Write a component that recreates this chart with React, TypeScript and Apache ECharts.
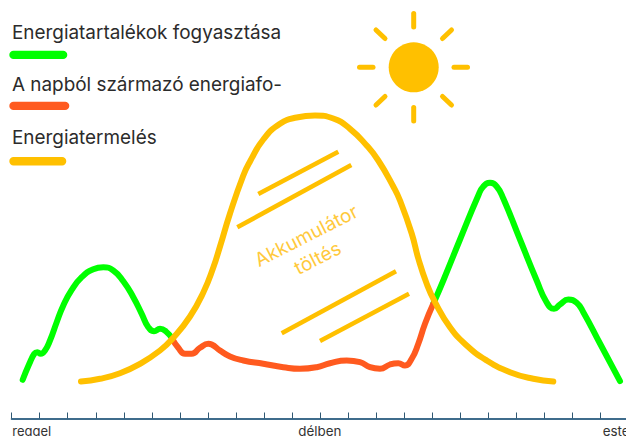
import React, { useEffect, useRef } from "react";
import * as echarts from "echarts";

const GREEN = "#00ff00";
const RED = "#ff5a1f";
const YELLOW = "#ffc000";

const legendNames = ["Energiatartalékok fogyasztása", "A napból származó energiafo-", "Energiatermelés"];
const tickLabels: Record<number, string> = { 0: "reggel", 11: "délben", 21: "este" };
const TICK = 28.02;

const greenMorning = [[11,38.7],[17.6,54.7],[22.6,64.7],[25.6,66.3],[29,64.7],[33.3,68],[38.3,78],[45,96.3],[51.6,113],[60,128.7],[70,141.3],[81.6,149.3],[91.6,151.3],[101.6,148],[111.6,137.3],[121.6,121.3],[130,104.7],[136.6,91.3],[142.3,87.3],[148.3,89.7],[154.3,87],[160.6,79.7]];
const redMidday = [[160.6,79.7],[166.6,70.7],[173.3,64.7],[180,64.7],[188.3,70.7],[196.6,74.7],[200,74],[208.3,68],[218.3,62],[231.6,58],[251.6,54.7],[271.6,51.3],[288.3,49.7],[305,51.3],[318.3,55.3],[335,58],[348.3,56.3],[358.3,51.3],[368.3,49.7],[378.3,54],[386.6,55.3],[393.3,53],[400,59.7],[406.6,74.7],[413.3,94.7],[421.6,114.7]];
const greenEvening = [[421.6,114.7],[431.6,138],[448.3,179],[466.6,223],[471.6,232],[478.3,235.7],[485,232],[491.6,220],[508.3,179],[525,138],[535,116],[542.3,109.7],[548.3,114],[556.6,119],[565,115.7],[571.6,106.3],[588.3,75],[608.3,37.3]];
const production = [[69.3,37],[88.3,39.7],[108.3,45.3],[128.3,54.7],[148.3,68],[161.6,80.7],[178.3,102],[191.6,126],[201.6,151],[208.3,172],[218.3,205],[231.6,243],[238.3,257],[251.6,279],[268.3,294.7],[285,301],[303.3,303],[321.6,300],[338.3,289.7],[355,273],[366.6,258],[381.6,232],[388.3,218],[400,185],[406.6,160],[415,134.7],[423.3,116.3],[438.3,91.3],[455,73],[475,58],[498.3,46.3],[521.6,39.7],[541.6,37]];

const hatchLines = [
  [258.3, 194, 338.3, 151.7],
  [237.3, 227.3, 351.3, 165],
  [281.7, 333.3, 396, 271.3],
  [320, 341, 409, 293.7],
];
const sunRays = [
  [413.7, 13.5, 413.7, 27],
  [413.7, 107.5, 413.7, 121],
  [359.5, 67.3, 373, 67.3],
  [454, 67.3, 467.5, 67.3],
  [376, 30, 385, 38.5],
  [451.5, 30, 442.5, 38.5],
  [376, 105, 385, 96.5],
  [451.5, 105, 442.5, 96.5],
];

function lineSeries(name: string, data: number[][], color: string) {
  return {
    name,
    type: "line",
    data,
    smooth: 0.5,
    showSymbol: false,
    symbol: "none",
    clip: false,
    lineStyle: { color, width: 6, cap: "round", join: "round" },
  };
}

export default function App() {
  const ref = useRef<HTMLDivElement>(null);
  useEffect(() => {
    document.body.style.margin = "0";
    const chart = echarts.init(ref.current!, null, { renderer: "svg" });
    const legendRows = [
      { y: 32, sy: 50.7, w: 58, color: GREEN },
      { y: 84, sy: 101.7, w: 60, color: RED },
      { y: 137, sy: 157, w: 57, color: YELLOW },
    ];
    const graphic: any[] = [];
    legendRows.forEach((r, i) => {
      graphic.push({
        type: "text", x: 12, y: r.y,
        style: { text: legendNames[i], fill: "#2b2b2b", font: '400 18.9px Inter', textVerticalAlign: "middle" },
      });
      graphic.push({
        type: "rect", shape: { x: 9.3, y: r.sy, width: r.w, height: 8.4, r: 4.2 },
        style: { fill: r.color },
      });
    });
    hatchLines.forEach((l) => graphic.push({
      type: "line", shape: { x1: l[0], y1: l[1], x2: l[2], y2: l[3] },
      style: { stroke: YELLOW, lineWidth: 4.5 }, z: 5,
    }));
    sunRays.forEach((l) => graphic.push({
      type: "line", shape: { x1: l[0], y1: l[1], x2: l[2], y2: l[3] },
      style: { stroke: YELLOW, lineWidth: 5, lineCap: "round" },
    }));
    graphic.push({
      type: "circle", shape: { cx: 413.7, cy: 67.3, r: 25 }, style: { fill: YELLOW },
    });
    graphic.push({
      type: "text", x: 312, y: 247, rotation: (27 * Math.PI) / 180, originX: 0, originY: 0,
      style: { text: "Akkumulátor\ntöltés", fill: "#ffc93c", font: '400 19px Inter', lineHeight: 25, align: "center", verticalAlign: "middle" },
    });

    chart.setOption({
      animation: false,
      backgroundColor: "#ffffff",
      grid: { left: 11.7, top: 0, width: TICK * 22, height: 418.5, outerBoundsMode: "none", containLabel: false },
      xAxis: {
        type: "value",
        min: 0,
        max: TICK * 22,
        interval: TICK,
        splitLine: { show: false },
        axisLine: { show: true, onZero: false, lineStyle: { color: "#3f6c8c", width: 2 } },
        axisTick: { show: true, inside: true, length: 6, lineStyle: { color: "#2f5873", width: 1 } },
        axisLabel: {
          show: true,
          interval: 0,
          hideOverlap: false,
          showMinLabel: true,
          margin: 6,
          color: "#333333",
          fontFamily: "Inter",
          fontSize: 13.4,
          formatter: (v: number) => {
            const i = Math.round(v / TICK);
            const t = tickLabels[i];
            if (!t) return "";
            if (i === 0) return `{l|${t}}`;
            if (i === 21) return `{r|${t}}`;
            return t;
          },
          rich: {
            l: { color: "#333333", fontFamily: "Inter", fontSize: 13, padding: [0, 0, 0, 40] },
            r: { color: "#333333", fontFamily: "Inter", fontSize: 13.4, padding: [0, 0, 0, 32] },
          },
        },
      },
      yAxis: { type: "value", min: 0, max: 418.5, show: false },
      series: [
        lineSeries(legendNames[0], greenMorning, GREEN),
        lineSeries(legendNames[0] + " (este)", greenEvening, GREEN),
        lineSeries(legendNames[1], redMidday, RED),
        lineSeries(legendNames[2], production, YELLOW),
      ],
      graphic: { elements: graphic },
    });
    return () => chart.dispose();
  }, []);
  return <div ref={ref} style={{ position: "absolute", left: 0, top: 0, width: 626, height: 436, overflow: "hidden" }} />;
}
